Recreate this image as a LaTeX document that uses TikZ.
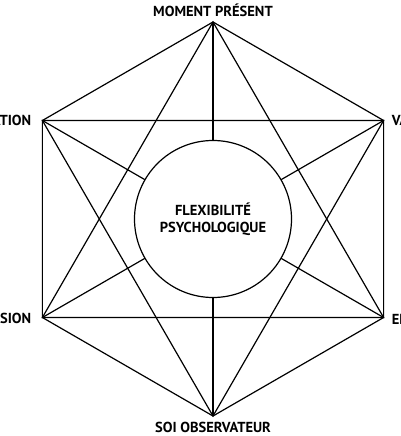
\documentclass[tikz,border=0pt]{standalone}
\usepackage{fontspec}
\setmainfont{PT Sans}
\usetikzlibrary{positioning}

\tikzset{
  lab/.style={font=\bfseries\fontsize{14.5}{17}\selectfont, inner sep=0pt},
  edge/.style={line width=1.2pt}
}

\begin{document}
\begin{tikzpicture}[x=1pt, y=1pt]
  \useasboundingbox (-213,-217) rectangle (187,219);
  \clip (-213,-217) rectangle (187,219);

  \coordinate (mp)  at (90:197);
  \coordinate (val) at (30:197);
  \coordinate (eng) at (-30:197);
  \coordinate (soi) at (-90:197);
  \coordinate (def) at (-150:197);
  \coordinate (acc) at (150:197);

  % hexagone
  \draw[edge] (mp) -- (val) -- (eng) -- (soi) -- (def) -- (acc) -- cycle;

  % triangles
  \draw[edge] (mp) -- (eng) -- (def) -- cycle;
  \draw[edge] (acc) -- (val) -- (soi) -- cycle;

  % diagonales
  \draw[edge] (mp) -- (soi);
  \draw[edge] (acc) -- (eng);
  \draw[edge] (def) -- (val);

  \node[lab, draw, circle, fill=white, line width=1.2pt, minimum size=157pt,
        align=center] (flex) at (0,0) {FLEXIBILITÉ\\PSYCHOLOGIQUE};

  \node[lab, above=5pt of mp] (mpl) {MOMENT PRÉSENT};
  \node[lab, below=6pt of soi] (soil) {SOI OBSERVATEUR};
  \node[lab, left=11pt of acc] (accl) {ACCEPTATION};
  \node[lab, left=11pt of def] (defl) {DÉFUSION};
  \node[lab, right=8pt of val] (vall) {VALEURS};
  \node[lab, right=8pt of eng, yshift=-2pt] (engl) {ENGAGEMENT};
\end{tikzpicture}
\end{document}
